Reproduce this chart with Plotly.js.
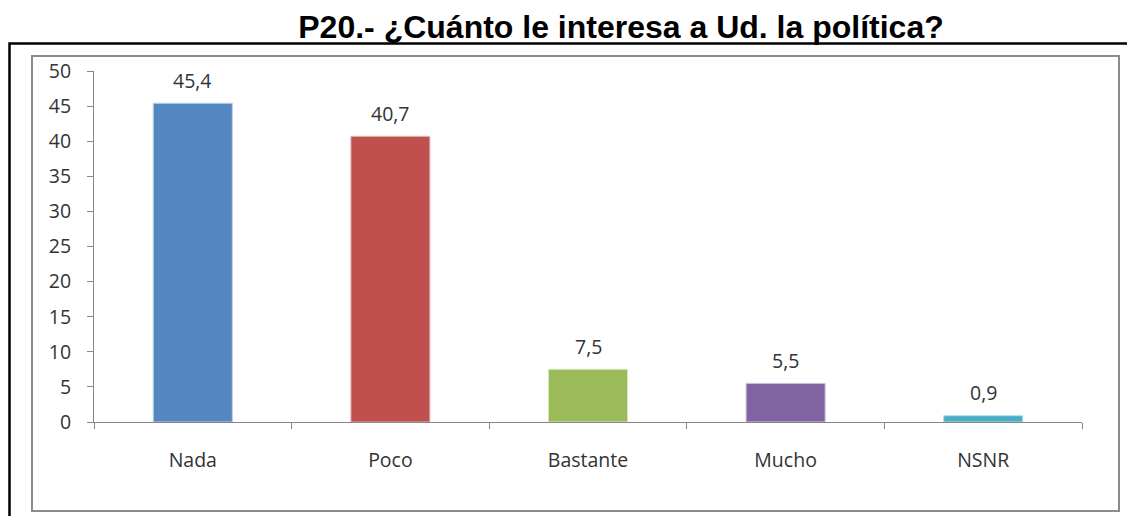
<!DOCTYPE html>
<html>
<head>
<meta charset="utf-8">
<script src="https://cdn.plot.ly/plotly-3.0.1.min.js"></script>
<style>html,body{margin:0;padding:0;background:#fff;}#chart{width:1127px;height:516px;}</style>
</head>
<body>
<div id="chart"></div>
<script>
const categories = ["Nada", "Poco", "Bastante", "Mucho", "NSNR"];
const values = [45.4, 40.7, 7.5, 5.5, 0.9];
const barColors = ["#5587C1", "#C0504D", "#9BBB59", "#8064A2", "#4BACC6"];
const barEdges = ["#B9CDE5", "#E6B9B8", "#D7E4BD", "#CCC1DA", "#B7DEE8"];
const yTicks = [0, 5, 10, 15, 20, 25, 30, 35, 40, 45, 50];
const titleText = "P20.- ¿Cuánto le interesa a Ud. la política?";

const W = 1127, H = 516;
const L = 94, R = 45, T = 71, B = 94;
const pw = W - L - R, ph = H - T - B;
const px = v => (v - L) / pw;
const py = v => (H - B - v) / ph;

const fnt = {family: "Open Sans, DejaVu Sans, sans-serif", size: 19.5, color: "#333333"};

const trace = {
  type: "bar",
  x: categories,
  y: values,
  marker: {color: barColors, line: {color: barEdges, width: 1}},
  width: 0.4,
  hoverinfo: "none"
};

const annotations = categories.map((c, i) => ({
  x: c, y: values[i], xref: "x", yref: "y",
  text: String(values[i]).replace(".", ","),
  showarrow: false, yanchor: "middle", yshift: 23,
  font: fnt
}));

const layout = {
  width: W, height: H,
  margin: {l: L, r: R, t: T, b: B, pad: 0},
  paper_bgcolor: "#ffffff",
  plot_bgcolor: "#ffffff",
  showlegend: false,
  title: {
    text: "<b>" + titleText + "</b>",
    font: {family: "Liberation Sans, Arial, sans-serif", size: 32, color: "#000000"},
    xref: "container", yref: "container",
    x: 621 / W, xanchor: "center",
    y: 1 - 27 / H, yanchor: "middle"
  },
  xaxis: {
    type: "category",
    showgrid: false, zeroline: false,
    showline: true, linecolor: "#868686", linewidth: 1,
    ticks: "outside", tickson: "boundaries", ticklen: 6, tickcolor: "#868686",
    tickfont: fnt, ticklabelstandoff: 21,
    fixedrange: true
  },
  yaxis: {
    range: [0, 50],
    tickvals: yTicks,
    showgrid: false, zeroline: false,
    showline: true, linecolor: "#868686", linewidth: 1,
    ticks: "outside", ticklen: 6, tickcolor: "#868686",
    tickfont: fnt, ticklabelstandoff: 12,
    fixedrange: true
  },
  annotations: annotations,
  shapes: [
    {type: "rect", xref: "paper", yref: "paper",
     x0: px(9.5), x1: px(1140), y0: py(530), y1: py(43.5),
     line: {color: "#000000", width: 2.5}, fillcolor: "rgba(0,0,0,0)", layer: "below"},
    {type: "rect", xref: "paper", yref: "paper",
     x0: px(32), x1: px(1119), y0: py(511), y1: py(56),
     line: {color: "#8C8C8C", width: 2}, fillcolor: "rgba(0,0,0,0)", layer: "below"}
  ],
  bargap: 0.6
};

Plotly.newPlot("chart", [trace], layout, {displayModeBar: false, staticPlot: true});
</script>
</body>
</html>
